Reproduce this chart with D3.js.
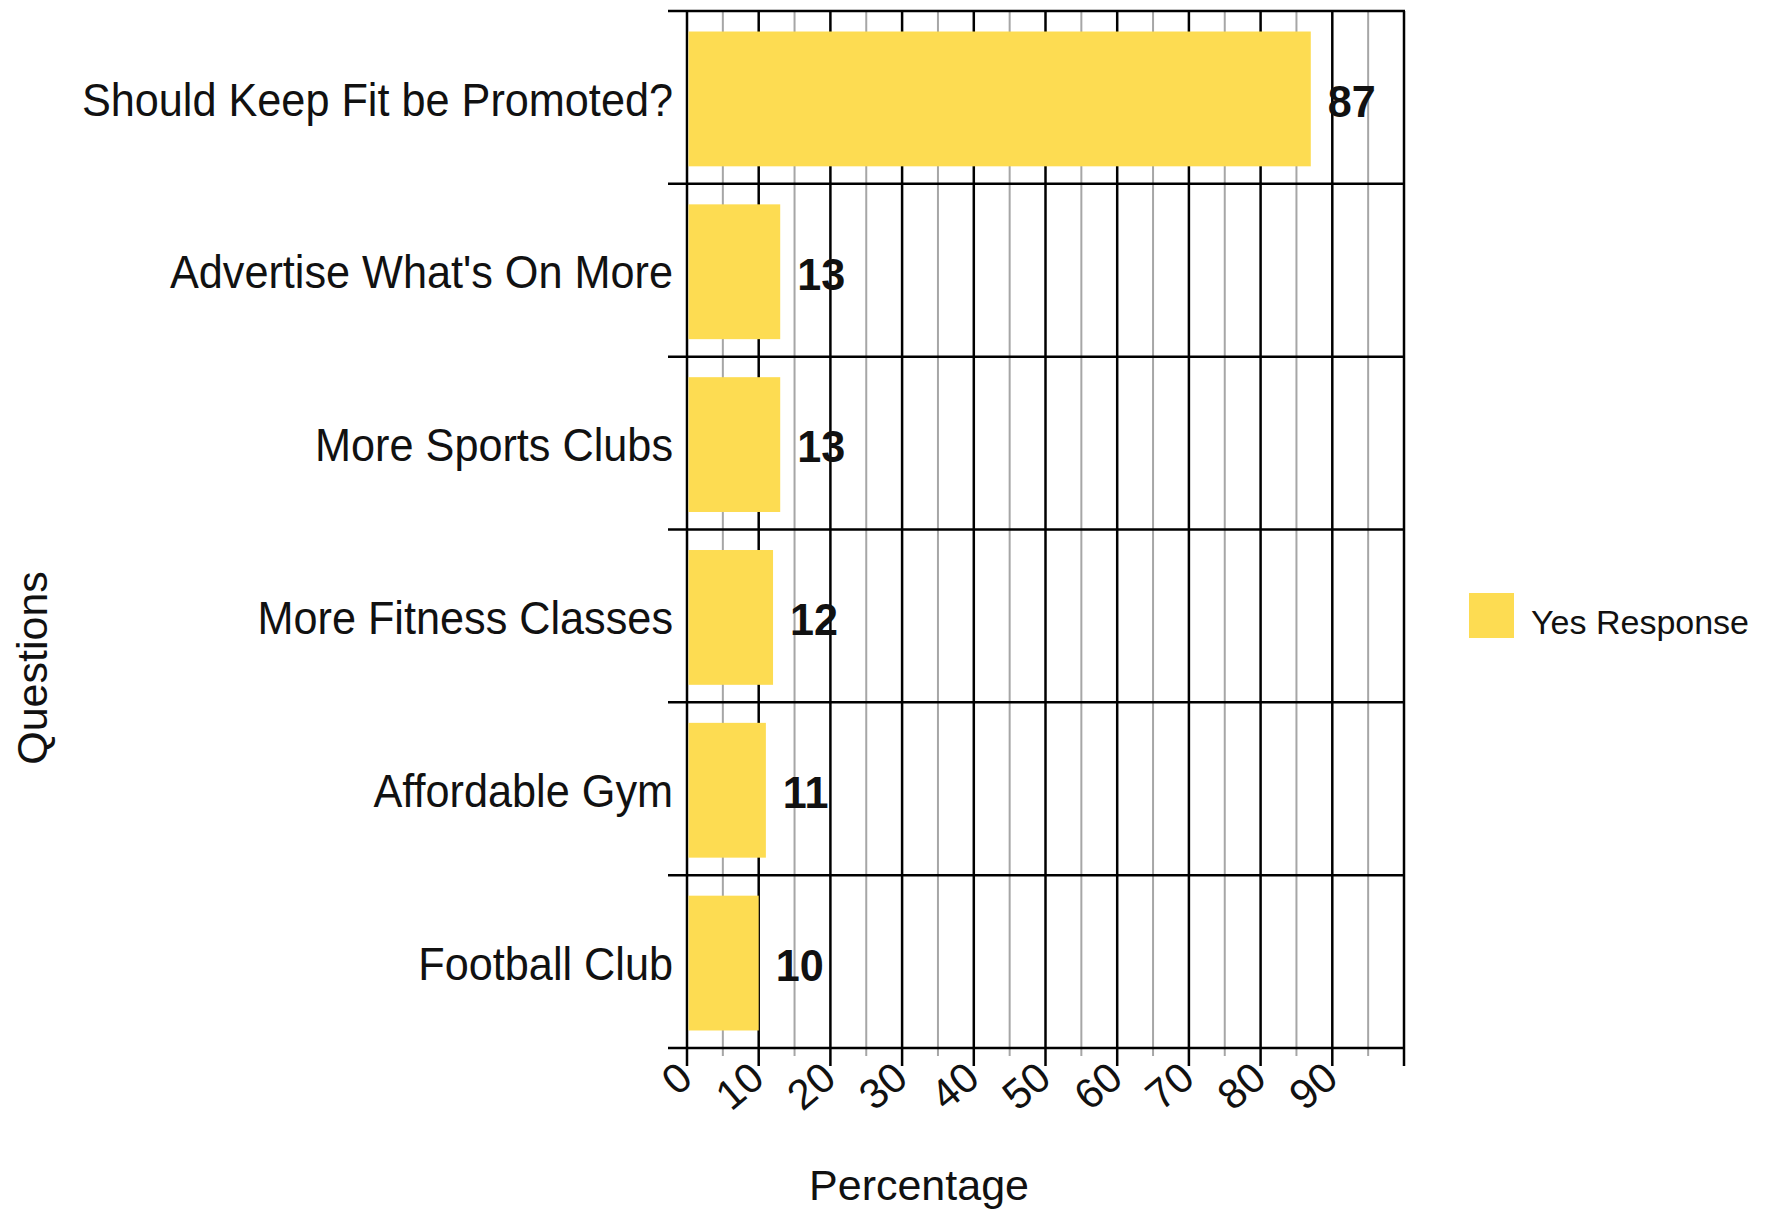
<!DOCTYPE html>
<html>
<head>
<meta charset="utf-8">
<script src="https://cdn.jsdelivr.net/npm/d3@7"></script>
<style>
  html, body { margin: 0; padding: 0; background: #fff; }
  svg { display: block; font-family: "Liberation Sans", Arial, sans-serif; }
</style>
</head>
<body>
<svg id="chart" width="1771" height="1210"></svg>
<script>
const categories = [
  "Should Keep Fit be Promoted?",
  "Advertise What's On More",
  "More Sports Clubs",
  "More Fitness Classes",
  "Affordable Gym",
  "Football Club"
];
const values = [87, 13, 13, 12, 11, 10];
const majorTicks = [0, 10, 20, 30, 40, 50, 60, 70, 80, 90, 100];
const tickLabels = ["0", "10", "20", "30", "40", "50", "60", "70", "80", "90", ""];
const minorTicks = [5, 15, 25, 35, 45, 55, 65, 75, 85, 95];
const seriesName = "Yes Response";
const xTitle = "Percentage";
const yTitle = "Questions";

const svg = d3.select("#chart");
const pLeft = 687, pRight = 1404, pTop = 11, pBottom = 1048;
const barColor = "#fddc52";

const x = d3.scaleLinear().domain([0, 100]).range([pLeft, pRight]);
const y = d3.scaleBand().domain(categories).range([pTop, pBottom])
  .paddingInner(0.22).paddingOuter(0.11);
const step = y.step();

// minor gridlines
svg.append("g").selectAll("line").data(minorTicks).join("line")
  .attr("x1", d => x(d)).attr("x2", d => x(d))
  .attr("y1", pTop).attr("y2", pBottom + 8)
  .attr("stroke", "#a6a6a6").attr("stroke-width", 2);

// major gridlines + ticks
svg.append("g").selectAll("line").data(majorTicks).join("line")
  .attr("x1", d => x(d)).attr("x2", d => x(d))
  .attr("y1", pTop).attr("y2", pBottom + 18)
  .attr("stroke", "#000").attr("stroke-width", 2.5);

// horizontal band boundaries
const bounds = d3.range(categories.length + 1);
svg.append("g").selectAll("line").data(bounds).join("line")
  .attr("x1", pLeft - 19).attr("x2", pRight + 1)
  .attr("y1", i => pTop + i * step).attr("y2", i => pTop + i * step)
  .attr("stroke", "#000").attr("stroke-width", 2.5);

// bars
svg.append("g").selectAll("rect").data(values).join("rect")
  .attr("x", x(0) + 1.5)
  .attr("y", (d, i) => y(categories[i]) + 1.5)
  .attr("width", d => x(d) - x(0) - 1.5)
  .attr("height", y.bandwidth())
  .attr("fill", barColor);

// value labels
svg.append("g").selectAll("text").data(values).join("text")
  .attr("transform", (d, i) => `translate(${x(d) + 17},${y(categories[i]) + y.bandwidth() / 2 + 4}) scale(0.98,1)`)
  .attr("dy", "0.35em")
  .attr("font-size", 44).attr("font-weight", "bold").attr("fill", "#111")
  .text(d => d);

// category labels
svg.append("g").selectAll("text").data(categories).join("text")
  .attr("transform", d => `translate(${pLeft - 14},${y(d) + y.bandwidth() / 2 + 2}) scale(0.94,1)`)
  .attr("dy", "0.35em").attr("text-anchor", "end")
  .attr("font-size", 46).attr("fill", "#111")
  .text(d => d);

// tick labels
svg.append("g").selectAll("text").data(majorTicks).join("text")
  .attr("transform", d => `translate(${x(d) + 8},${pBottom + 34}) rotate(-40)`)
  .attr("text-anchor", "end")
  .attr("font-size", 42).attr("fill", "#111")
  .text((d, i) => tickLabels[i]);

// axis titles
svg.append("text")
  .attr("transform", `translate(919,1200)`)
  .attr("text-anchor", "middle")
  .attr("font-size", 43).attr("fill", "#111")
  .text(xTitle);

svg.append("text")
  .attr("transform", `translate(47,668) rotate(-90)`)
  .attr("text-anchor", "middle")
  .attr("font-size", 43).attr("fill", "#111")
  .text(yTitle);

// legend
const legend = svg.append("g").attr("transform", "translate(1469,593)");
legend.append("rect").attr("width", 45).attr("height", 45).attr("fill", barColor);
legend.append("text").attr("x", 62).attr("y", 41)
  .attr("font-size", 34).attr("fill", "#111")
  .text(seriesName);
</script>
</body>
</html>
